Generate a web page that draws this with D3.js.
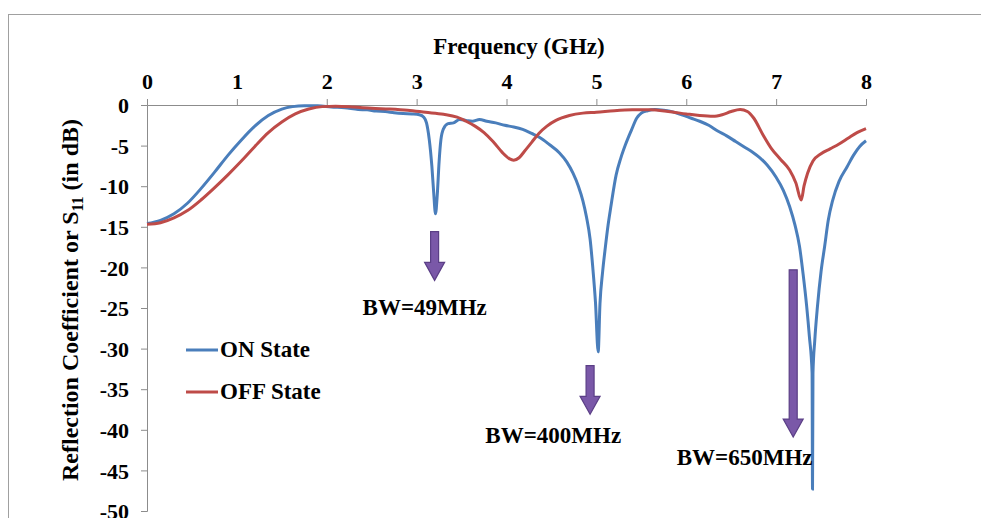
<!DOCTYPE html>
<html><head><meta charset="utf-8">
<script src="https://cdn.jsdelivr.net/npm/d3@7"></script>
<style>body{margin:0;background:#fff}svg{display:block}text{font-family:"Liberation Serif","Times New Roman",serif;font-weight:bold;fill:#000}</style>
</head><body><svg id="c" width="981" height="518"></svg>
<script>
const xTicks=[0,1,2,3,4,5,6,7,8];
const yTicks=[0,-5,-10,-15,-20,-25,-30,-35,-40,-45,-50];
const onFreq=[0,0.15,0.3,0.45,0.6,0.75,0.9,1.05,1.2,1.35,1.5,1.62,1.75,1.9,2.05,2.2,2.35,2.45,2.55,2.65,2.75,2.85,2.95,3.03,3.08,3.11,3.14,3.17,3.19,3.21,3.23,3.25,3.27,3.30,3.35,3.41,3.48,3.55,3.62,3.7,3.78,3.88,3.98,4.08,4.18,4.28,4.37,4.48,4.59,4.67,4.74,4.8,4.85,4.89,4.93,4.96,4.99,5.02,5.04,5.07,5.1,5.13,5.16,5.22,5.27,5.32,5.39,5.45,5.5,5.57,5.65,5.75,5.85,5.95,6.05,6.15,6.25,6.35,6.45,6.55,6.65,6.75,6.82,6.9,7.0,7.08,7.15,7.21,7.26,7.30,7.34,7.37,7.40,7.405,7.41,7.43,7.46,7.50,7.54,7.58,7.63,7.7,7.79,7.86,7.93,8.0];
const onDb=[-14.6,-14.2,-13.4,-12.1,-10.3,-8.3,-6.2,-4.3,-2.6,-1.3,-0.5,-0.2,-0.1,-0.1,-0.25,-0.35,-0.55,-0.6,-0.75,-0.8,-0.95,-1.05,-1.1,-1.2,-1.5,-2.2,-4.2,-7.6,-10.8,-13.4,-11.0,-7.0,-4.3,-2.9,-2.3,-2.2,-1.8,-1.9,-2.0,-1.8,-2.0,-2.2,-2.5,-2.7,-3.0,-3.5,-4.0,-4.9,-5.9,-7.0,-8.4,-10,-11.8,-13.8,-16.5,-20.0,-24.3,-30.4,-24.5,-20.5,-17.5,-14.8,-12.6,-8.6,-6.6,-5.0,-3.1,-1.6,-1.0,-0.7,-0.55,-0.65,-0.85,-1.2,-1.6,-2.0,-2.5,-3.2,-3.8,-4.5,-5.2,-5.9,-6.5,-7.4,-8.9,-10.5,-12.5,-14.8,-17.4,-20.8,-24.8,-28.5,-33.0,-47.3,-33.0,-29,-24.8,-20.5,-17.4,-14.2,-11.7,-9.4,-7.6,-6.2,-5.1,-4.4];
const offFreq=[0,0.15,0.3,0.45,0.6,0.75,0.9,1.05,1.2,1.35,1.5,1.65,1.8,1.95,2.1,2.3,2.5,2.7,2.9,3.1,3.3,3.45,3.55,3.65,3.75,3.85,3.95,4.03,4.08,4.14,4.2,4.28,4.36,4.45,4.55,4.7,4.85,5.0,5.2,5.4,5.6,5.8,6.0,6.15,6.3,6.4,6.5,6.6,6.68,6.75,6.85,6.95,7.05,7.15,7.22,7.28,7.31,7.35,7.41,7.5,7.6,7.7,7.8,7.9,8.0];
const offDb=[-14.7,-14.5,-13.9,-13.0,-11.7,-10.2,-8.6,-6.9,-5.1,-3.4,-2.1,-1.1,-0.5,-0.2,-0.15,-0.25,-0.4,-0.5,-0.65,-0.9,-1.15,-1.5,-2.0,-2.6,-3.4,-4.5,-5.8,-6.6,-6.8,-6.5,-5.7,-4.6,-3.5,-2.6,-1.9,-1.3,-1.0,-0.9,-0.7,-0.6,-0.6,-0.8,-1.1,-1.3,-1.4,-1.2,-0.8,-0.55,-0.8,-1.6,-3.6,-5.4,-6.7,-8.0,-9.6,-11.7,-10,-8.4,-6.9,-6.0,-5.4,-4.8,-4.1,-3.4,-2.9];
const seriesNames=["ON State","OFF State"];
const bwLabels=["BW=49MHz","BW=400MHz","BW=650MHz"];
const arrowFreq=[3.20,4.93,7.19];
const arrowTop=[-15.6,-32.1,-20.3];
const arrowTip=[-21.6,-38.1,-40.9];
const labelFreq=[3.09,4.52,6.65];
const labelDb=[-25.9,-41.6,-44.3];

const svg=d3.select("#c");
const colors=["#4a7ebb","#be4b48"];
svg.append("rect").attr("x",8.5).attr("y",14.5).attr("width",1000).attr("height",600).attr("fill","none").attr("stroke","#a0a0a0").attr("stroke-width",1);
const x=d3.scaleLinear().domain([0,8]).range([147,866]);
const y=d3.scaleLinear().domain([0,-50]).range([105,511]);

const xa=svg.append("g").attr("transform","translate(0,105)").call(d3.axisTop(x).tickValues(xTicks).tickSize(6).tickPadding(10).tickFormat(d3.format("d")));
const ya=svg.append("g").attr("transform","translate(147,0)").call(d3.axisLeft(y).tickValues(yTicks).tickSize(6).tickPadding(12).tickFormat(d=>d===0?"0":String(d)));
[xa,ya].forEach(a=>{a.attr("font-family",null);a.selectAll("path,line").attr("stroke","#8c8c8c");a.selectAll("text").attr("font-size",22).attr("fill","#000");});
ya.selectAll("text").attr("dy","0.35em");

svg.append("text").attr("x",519).attr("y",54).attr("text-anchor","middle").attr("font-size",23).text("Frequency (GHz)");
const yt=svg.append("text").attr("transform","translate(78,300) rotate(-90)").attr("text-anchor","middle").attr("font-size",24);
yt.append("tspan").text("Reflection Coefficient  or S");
yt.append("tspan").attr("font-size",16).attr("dy",5).text("11");
yt.append("tspan").attr("dy",-5).text(" (in dB)");

const line=d3.line().x(d=>x(d[0])).y(d=>y(d[1])).curve(d3.curveMonotoneX);
const data=[d3.zip(onFreq,onDb),d3.zip(offFreq,offDb)];
svg.append("path").datum(data[0]).attr("d",line).attr("fill","none").attr("stroke",colors[0]).attr("stroke-width",3);
svg.append("path").datum(data[1]).attr("d",line).attr("fill","none").attr("stroke",colors[1]).attr("stroke-width",3);

seriesNames.forEach((n,i)=>{
  const ly=350+i*42;
  svg.append("line").attr("x1",186).attr("x2",218).attr("y1",ly).attr("y2",ly).attr("stroke",colors[i]).attr("stroke-width",3);
  svg.append("text").attr("x",220).attr("y",ly+7).attr("font-size",23).text(n);
});

arrowFreq.forEach((f,i)=>{
  const cx=x(f),t=y(arrowTop[i]),tip=y(arrowTip[i]);
  const hh=Math.min(18,(tip-t)*0.4),sw=4,hw=10;
  const p=`M${cx-sw},${t}L${cx+sw},${t}L${cx+sw},${tip-hh}L${cx+hw},${tip-hh}L${cx},${tip}L${cx-hw},${tip-hh}L${cx-sw},${tip-hh}Z`;
  svg.append("path").attr("d",p).attr("fill","#7a58a8").attr("stroke","#5b3f86").attr("stroke-width",1.2);
  svg.append("text").attr("x",x(labelFreq[i])).attr("y",y(labelDb[i])).attr("text-anchor","middle").attr("font-size",23).text(bwLabels[i]);
});
</script></body></html>
